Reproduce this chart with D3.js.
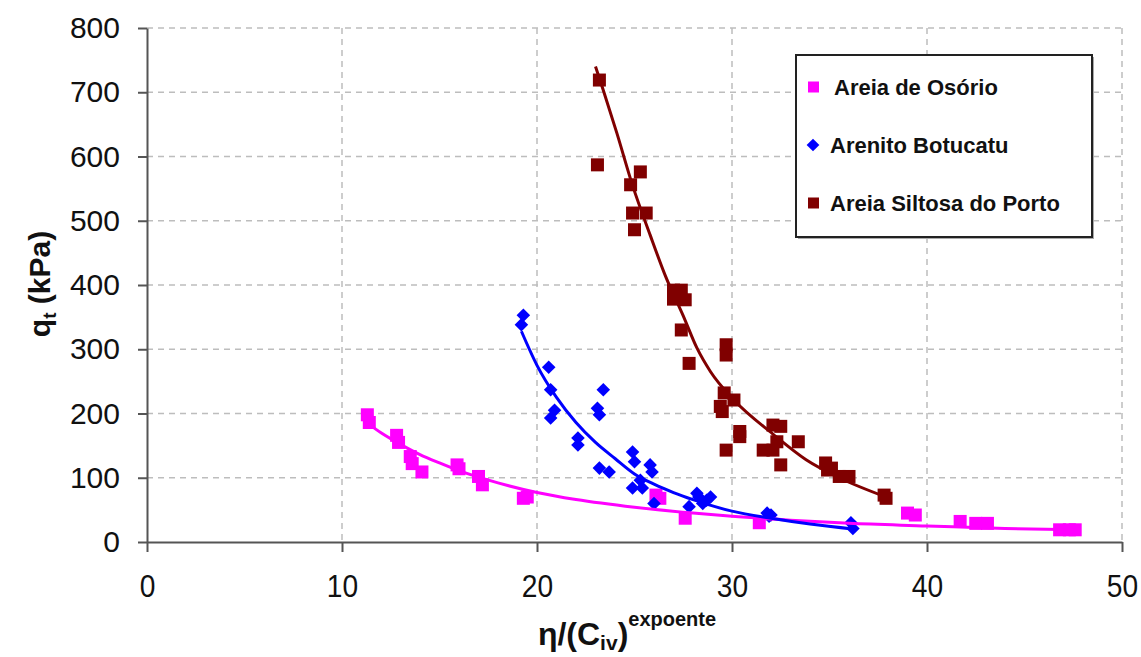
<!DOCTYPE html>
<html>
<head>
<meta charset="utf-8">
<script src="https://cdn.jsdelivr.net/npm/d3@7"></script>
<style>
  body { margin: 0; background: #fff; }
  svg { display: block; }
</style>
</head>
<body>
<div id="chart"></div>
<script>
// series
const osorio = [
  [11.3, 198], [11.4, 186], [12.8, 166], [12.9, 155], [13.5, 133], [13.6, 122],
  [14.1, 109], [15.9, 120], [16.0, 114], [17.0, 102], [17.2, 89], [19.3, 68],
  [19.5, 70], [26.1, 73], [26.3, 68], [27.6, 37], [31.4, 30], [39.0, 45],
  [39.4, 42], [41.7, 32], [42.5, 29], [43.1, 29], [46.8, 19], [47.3, 19], [47.6, 19]
]
const botucatu = [
  [19.3, 353], [19.2, 338], [20.6, 272], [20.7, 237], [20.9, 205], [20.7, 193],
  [22.1, 162], [22.1, 151], [23.1, 208], [23.2, 198], [23.4, 237], [23.2, 115],
  [23.7, 109], [24.9, 140], [25.0, 125], [25.8, 120], [25.9, 109], [25.3, 96],
  [24.9, 84], [25.4, 84], [26.0, 60], [28.2, 76], [28.3, 70], [28.5, 60],
  [27.8, 55], [28.9, 70], [28.7, 65], [31.8, 45], [31.9, 40], [32.0, 42],
  [36.1, 30], [36.2, 21]
]
const porto = [
  [23.2, 719], [23.1, 587], [25.3, 576], [24.8, 556], [24.9, 512], [25.6, 512],
  [25.0, 486], [27.0, 392], [27.4, 392], [27.2, 382], [27.6, 377], [27.0, 378],
  [27.4, 330], [27.8, 278], [29.7, 307], [29.7, 291], [29.6, 232], [30.1, 221],
  [29.4, 211], [29.5, 203], [30.4, 172], [30.4, 164], [29.7, 143], [32.1, 182],
  [32.5, 180], [32.3, 156], [31.6, 143], [32.1, 143], [32.5, 120], [33.4, 156],
  [34.8, 123], [34.9, 112], [35.1, 115], [35.5, 102], [36.0, 102], [37.8, 73], [37.9, 68]
]

// trend lines, points
const osorioTrend = [
  [11.3, 185], [12, 170], [13, 152], [14, 136], [15, 123], [16, 111], [18, 92],
  [20, 77], [22, 66], [25, 54], [28, 45], [30, 40], [33, 34], [36, 29], [40, 25],
  [44, 21], [47.7, 19]
]
const botucatuTrend = [
  [19.2, 328], [20, 275], [21, 225], [22, 186], [23, 155], [24, 130], [25, 106],
  [26, 90], [27, 77], [28, 66], [30, 48], [32, 37], [34, 28], [36.3, 20]
]
const portoTrend = [
  [23.0, 740], [23.4, 703], [24.1, 636], [24.9, 555], [25.8, 478], [26.6, 413],
  [27.5, 352], [28.2, 302], [28.9, 265], [30.1, 221], [32.1, 168], [33.8, 128],
  [35.5, 100], [37.9, 70]
]

const xTicks = [0, 10, 20, 30, 40, 50]
const yTicks = [0, 100, 200, 300, 400, 500, 600, 700, 800]
const legendLabels = ['Areia de Osório', 'Arenito Botucatu', 'Areia Siltosa do Porto']

const W = 1141
const H = 657
const margin = { top: 28, left: 147, right: 19, bottom: 115 }
const width = W - margin.left - margin.right
const height = H - margin.top - margin.bottom

const colMag = '#ff00ff'
const colBlue = '#0000ff'
const colRed = '#800000'

const svg = d3
  .select('#chart')
  .append('svg')
  .attr('width', W)
  .attr('height', H)

const g = svg
  .append('g')
  .attr('transform', 'translate(' + margin.left + ',' + margin.top + ')')

/// Scales////
const xScale = d3.scaleLinear().domain([0, 50]).range([0, width])
const yScale = d3.scaleLinear().domain([0, 800]).range([height, 0])

/// grid////
g.append('g')
  .attr('class', 'grid')
  .selectAll('line.h')
  .data(yTicks.filter(d => d > 0))
  .enter()
  .append('line')
  .attr('x1', 0)
  .attr('x2', width)
  .attr('y1', d => yScale(d))
  .attr('y2', d => yScale(d))
  .attr('stroke', '#bdbdbd')
  .attr('stroke-width', 1.5)
  .attr('stroke-dasharray', '6,5')

g.append('g')
  .attr('class', 'grid')
  .selectAll('line.v')
  .data(xTicks.filter(d => d > 0))
  .enter()
  .append('line')
  .attr('y1', 0)
  .attr('y2', height)
  .attr('x1', d => xScale(d))
  .attr('x2', d => xScale(d))
  .attr('stroke', '#bdbdbd')
  .attr('stroke-width', 1.5)
  .attr('stroke-dasharray', '6,5')

/// axes////
const yAxis = g
  .append('g')
  .attr('class', 'axis y-axis')
  .call(
    d3.axisLeft(yScale)
      .tickValues(yTicks)
      .tickSizeInner(9)
      .tickSizeOuter(0)
      .tickPadding(18)
  )
yAxis.selectAll('line, path').attr('stroke', '#555').attr('stroke-width', 2)
yAxis
  .selectAll('text')
  .attr('font-family', 'Liberation Sans, Arial, sans-serif')
  .attr('font-size', 30)
  .attr('fill', '#111')

const xAxis = g
  .append('g')
  .attr('class', 'axis x-axis')
  .attr('transform', 'translate(0,' + height + ')')
  .call(
    d3.axisBottom(xScale)
      .tickValues(xTicks)
      .tickSizeInner(10)
      .tickSizeOuter(0)
      .tickPadding(22)
  )
xAxis.selectAll('line, path').attr('stroke', '#555').attr('stroke-width', 2)
xAxis
  .selectAll('text')
  .attr('font-family', 'Liberation Sans, Arial, sans-serif')
  .attr('font-size', 32)
  .attr('fill', '#111')
  .attr('transform', 'scale(0.88,1)')

/// markers////
const sq = 13
function squares(data, color) {
  g.append('g')
    .selectAll('rect')
    .data(data)
    .enter()
    .append('rect')
    .attr('x', d => xScale(d[0]) - sq / 2)
    .attr('y', d => yScale(d[1]) - sq / 2)
    .attr('width', sq)
    .attr('height', sq)
    .attr('fill', color)
}
function diamonds(data, color) {
  g.append('g')
    .selectAll('rect')
    .data(data)
    .enter()
    .append('rect')
    .attr('x', -4.8)
    .attr('y', -4.8)
    .attr('width', 9.6)
    .attr('height', 9.6)
    .attr('transform', d => 'translate(' + xScale(d[0]) + ',' + yScale(d[1]) + ') rotate(45)')
    .attr('fill', color)
}

squares(osorio, colMag)
diamonds(botucatu, colBlue)
squares(porto, colRed)

/// trend lines////
const line = d3
  .line()
  .x(d => xScale(d[0]))
  .y(d => yScale(d[1]))
  .curve(d3.curveMonotoneX)

;[[osorioTrend, colMag], [botucatuTrend, colBlue], [portoTrend, colRed]].forEach(s => {
  g.append('path')
    .datum(s[0])
    .attr('d', line)
    .attr('fill', 'none')
    .attr('stroke', s[1])
    .attr('stroke-width', 3)
})

/// legend////
const legend = svg.append('g').attr('transform', 'translate(796,55)')
legend
  .append('rect')
  .attr('x', 2)
  .attr('y', 2)
  .attr('width', 296)
  .attr('height', 182)
  .attr('fill', '#aaa')
legend
  .append('rect')
  .attr('width', 296)
  .attr('height', 182)
  .attr('fill', '#fff')
  .attr('stroke', '#222')
  .attr('stroke-width', 2)

const legendColors = [colMag, colBlue, colRed]
legendLabels.forEach((label, i) => {
  const cy = 32 + i * 58
  if (i === 1) {
    legend
      .append('rect')
      .attr('x', -4.5)
      .attr('y', -4.5)
      .attr('width', 9)
      .attr('height', 9)
      .attr('transform', 'translate(17,' + cy + ') rotate(45)')
      .attr('fill', legendColors[i])
  } else {
    legend
      .append('rect')
      .attr('x', 12)
      .attr('y', cy - 5.5)
      .attr('width', 11)
      .attr('height', 11)
      .attr('fill', legendColors[i])
  }
  legend
    .append('text')
    .text(label)
    .attr('x', i === 0 ? 38 : 34)
    .attr('y', cy + 7.5)
    .attr('font-family', 'Liberation Sans, Arial, sans-serif')
    .attr('font-weight', 'bold')
    .attr('font-size', 22)
    .attr('fill', '#111')
})

/// axis titles////
const yTitle = svg
  .append('text')
  .attr('transform', 'translate(50,284) rotate(-90)')
  .attr('text-anchor', 'middle')
  .attr('font-family', 'Liberation Sans, Arial, sans-serif')
  .attr('font-weight', 'bold')
  .attr('font-size', 30)
  .attr('fill', '#111')
yTitle.append('tspan').text('q')
yTitle.append('tspan').text('t').attr('font-size', 19).attr('dy', 6)
yTitle.append('tspan').text(' (kPa)').attr('dy', -6)

const xTitle = svg
  .append('text')
  .attr('x', 627)
  .attr('y', 645)
  .attr('text-anchor', 'middle')
  .attr('font-family', 'Liberation Sans, Arial, sans-serif')
  .attr('font-weight', 'bold')
  .attr('font-size', 32)
  .attr('fill', '#111')
xTitle.append('tspan').text('η/(C')
xTitle.append('tspan').text('iv').attr('font-size', 21).attr('dy', 5)
xTitle.append('tspan').text(')').attr('dy', -5)
xTitle.append('tspan').text('expoente').attr('font-size', 20).attr('dy', -19)
</script>
</body>
</html>
